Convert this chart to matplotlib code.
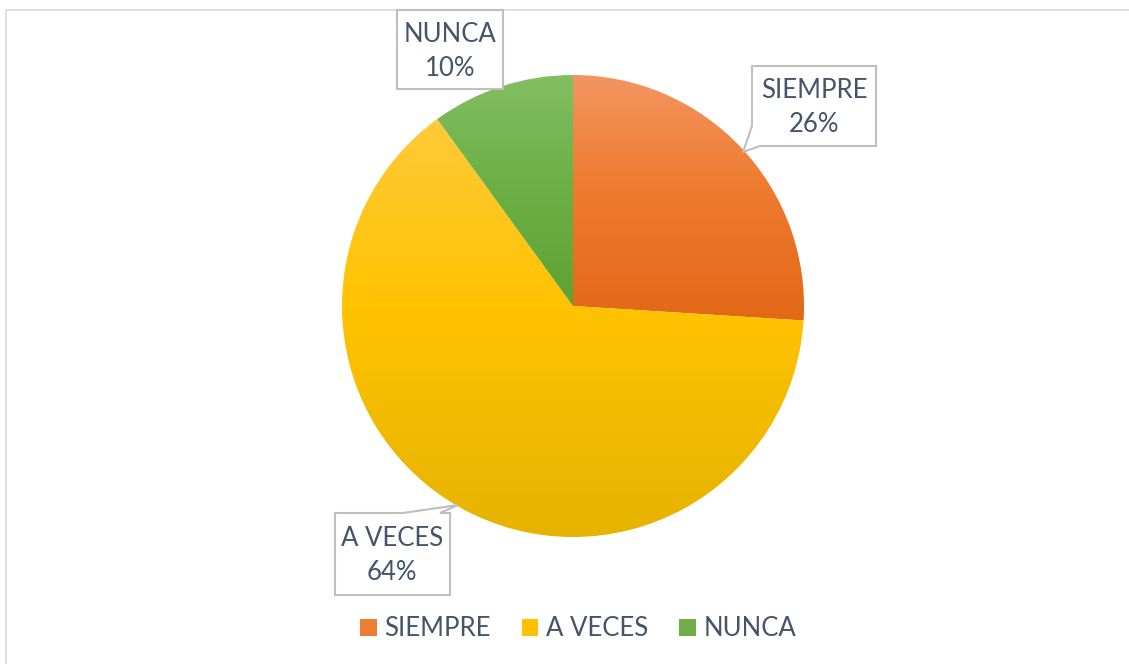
import numpy as np
import matplotlib.pyplot as plt
from matplotlib.colors import LinearSegmentedColormap
from matplotlib.patches import Rectangle, Polygon, Patch

plt.rcParams['font.family'] = ['Lato', 'DejaVu Sans']

categorias = ["SIEMPRE", "A VECES", "NUNCA"]
porcentajes = [26, 64, 10]
colores_arriba = ["#F39560", "#FFCA38", "#82BE62"]
colores_medio = ["#EE7B30", "#FFC300", "#6DB046"]
colores_abajo = ["#E26816", "#E6B300", "#5FA333"]
colores_leyenda = ["#ED7D31", "#FFC000", "#70AD47"]
texto_color = "#44546A"

W, H = 1129, 664
fig = plt.figure(figsize=(W / 100, H / 100), dpi=100)
ax = fig.add_axes([0, 0, 1, 1])
ax.set_aspect('equal')

# marco del grafico (solo se ven el borde izquierdo y el superior)
ax.add_patch(Rectangle((5.5, -5), W + 10, H - 9.5 + 5, fill=False,
                       edgecolor="#D9D9D9", linewidth=1.2))

# centro y radio en pixeles (y hacia arriba)
cx, cy, r = 573, H - 306, 231
wedges, _ = ax.pie(porcentajes, startangle=90, counterclock=False,
                   radius=r, center=(cx, cy), frame=True)
ax.set_xlim(0, W)
ax.set_ylim(0, H)
ax.axis('off')

# relleno degradado de arriba hacia abajo para cada sector
for w, c1, c2, c3 in zip(wedges, colores_arriba, colores_medio, colores_abajo):
    w.set_facecolor('none')
    w.set_edgecolor('none')
    bb = w.get_path().get_extents()
    cmap = LinearSegmentedColormap.from_list("g", [(0, c1), (0.45, c2), (1, c3)])
    grad = np.linspace(0, 1, 256).reshape(-1, 1)
    im = ax.imshow(grad, cmap=cmap, aspect='auto', origin='upper',
                   extent=(bb.x0, bb.x1, bb.y0, bb.y1), zorder=1)
    im.set_clip_path(w)

borde = "#BFBFBF"

def caja(puntos, texto, tx, ty):
    pts = [(x, H - y) for x, y in puntos]
    ax.add_patch(Polygon(pts, closed=True, facecolor="white",
                         edgecolor=borde, linewidth=1.5, zorder=3))
    ax.text(tx, H - ty, texto, ha='center', va='center', fontsize=18.5,
            color=texto_color, linespacing=1.45, zorder=4)

# etiquetas de datos con sus flechas
caja([(752, 66), (876, 66), (876, 146), (760, 146), (743, 152), (752, 126)],
     f"{categorias[0]}\n{porcentajes[0]}%", 814, 108)
caja([(335, 513), (403, 513), (458, 505), (440, 513), (450, 513),
      (450, 595), (335, 595)],
     f"{categorias[1]}\n{porcentajes[1]}%", 392, 556)
caja([(397, 10), (503, 10), (503, 89), (397, 89)],
     f"{categorias[2]}\n{porcentajes[2]}%", 450, 51)

# leyenda
handles = [Patch(facecolor=c, edgecolor='none') for c in colores_leyenda]
leg = ax.legend(handles, categorias, loc='center', ncol=3, frameon=False,
                bbox_to_anchor=(578 / W, 1 - 629 / H), fontsize=18.5,
                handlelength=0.65, handleheight=0.65, handletextpad=0.3,
                columnspacing=1.2)
for t in leg.get_texts():
    t.set_color(texto_color)

fig.savefig("out.png", dpi=100, facecolor="white")
